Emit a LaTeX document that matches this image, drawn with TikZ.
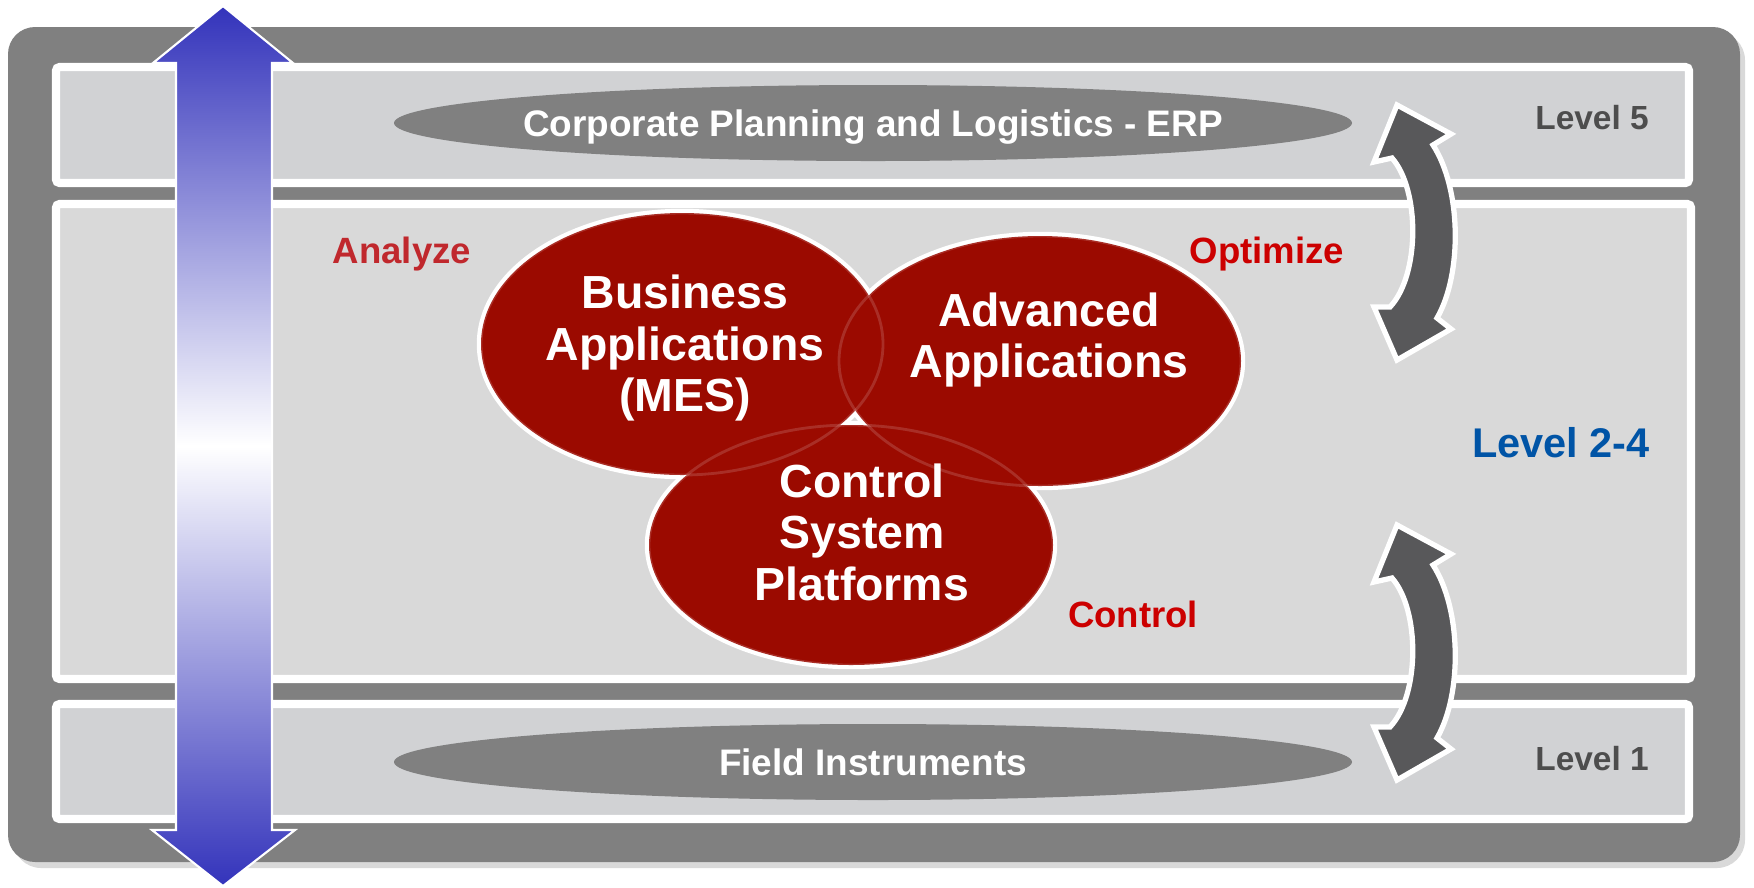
\documentclass[tikz,border=0pt]{standalone}
\usepackage{fontspec}
\setmainfont{Liberation Sans}

\definecolor{framegray}{HTML}{808080}
\definecolor{bandgray}{HTML}{D1D2D4}
\definecolor{midgray}{HTML}{D9D9D9}
\definecolor{levelgray}{HTML}{4D4D4D}
\definecolor{levelblue}{HTML}{0054A6}
\definecolor{analyzered}{HTML}{C0282D}
\definecolor{actred}{HTML}{CC0000}
\definecolor{vennred}{HTML}{9B0A00}
\definecolor{arrowgray}{HTML}{58585A}
\definecolor{arrowblue}{HTML}{3333BB}

\tikzset{
	band/.style = {draw = white, line width = 2.3pt, rounded corners = 1pt},
	levellabel/.style = {anchor = base, text = levelgray, font = \fontsize{9.5}{11}\selectfont\bfseries},
	actlabel/.style = {anchor = base, font = \fontsize{10.4}{12}\selectfont\bfseries},
	planlabel/.style = {anchor = base, text = white, font = \fontsize{10.5}{12}\selectfont\bfseries},
	venntext/.style = {align = center, text = white, font = \fontsize{13.2}{14.65}\selectfont\bfseries},
	swaparrow/.style = {draw = white, line width = 1.5pt, fill = arrowgray}
}

\begin{document}
\begin{tikzpicture}[x = 0.01cm, y = -0.01cm]

	\useasboundingbox (0, 0) rectangle (1754, 887);

	% Frame

	\fill [black, opacity = 0.15, rounded corners = 8pt] (13, 32) rectangle (1745, 868);
	\fill [framegray, rounded corners = 7.7pt] (8, 27) rectangle (1740, 862);

	% Level bands

	\draw [band, fill = bandgray] (56, 67) rectangle (1689, 183);
	\draw [band, fill = midgray] (56, 204) rectangle (1691, 679);
	\draw [band, fill = bandgray] (56, 704) rectangle (1689, 819);

	% Planning and field layers

	\fill [framegray] (873, 123) ellipse [x radius = 479, y radius = 38];
	\fill [framegray] (873, 762) ellipse [x radius = 479, y radius = 38];
	\node [planlabel] (erp) at (873, 136) {Corporate Planning and Logistics - ERP};
	\node [planlabel] (field) at (873, 775) {Field Instruments};

	% Venn blobs

	\foreach \cx/\cy/\rx/\ry in {682/344/201/131, 1040/361/201/125, 851/545/202/120}
		\draw [white, line width = 2.4pt] (\cx, \cy) ellipse [x radius = \rx, y radius = \ry];
	\foreach \cx/\cy/\rx/\ry in {682/344/201/131, 1040/361/201/125, 851/545/202/120}
		\fill [vennred] (\cx, \cy) ellipse [x radius = \rx, y radius = \ry];
	\foreach \cx/\cy/\rx/\ry in {682/344/201/131, 1040/361/201/125, 851/545/202/120}
		\draw [white, opacity = 0.15, line width = 0.8pt] (\cx, \cy) ellipse [x radius = \rx, y radius = \ry];

	\node [venntext] (business) at (685, 348) {Business\\Applications\\(MES)};
	\node [venntext] (advanced) at (1049, 340) {Advanced\\Applications};
	\node [venntext] (control) at (862, 532) {Control\\System\\Platforms};

	% Activity labels

	\node [actlabel, text = analyzered] (analyze) at (402, 263) {Analyze};
	\node [actlabel, text = actred] (optimize) at (1267, 263) {Optimize};
	\node [actlabel, text = actred] (controlling) at (1133, 627) {Control};

	% Level labels

	\node [levellabel] (level5) at (1592, 129) {Level 5};
	\node [levellabel, text = levelblue, font = \fontsize{11.8}{14}\selectfont\bfseries] (level24) at (1561, 457) {Level 2-4};
	\node [levellabel] (level1) at (1592, 770) {Level 1};

	% Exchange arrows

	\foreach \dy in {0, 420}
		\draw [swaparrow, shift = {(0, \dy)}] (1397, 105) -- (1451, 134) -- (1433, 145)
			.. controls (1462, 190) and (1462, 275) .. (1437, 318) -- (1451, 329) -- (1397, 360)
			-- (1374, 307) -- (1390, 307) .. controls (1420, 275) and (1420, 190) .. (1392, 158)
			-- (1374, 162) -- cycle;

	% Vertical integration arrow

	\draw [draw = white, line width = 0.6pt, top color = arrowblue, bottom color = arrowblue, middle color = white]
		(223, 6) -- (293, 63) -- (272, 63) -- (272, 830) -- (295, 830) -- (223, 886)
		-- (152, 830) -- (176, 830) -- (176, 63) -- (153, 63) -- cycle;

\end{tikzpicture}
\end{document}
